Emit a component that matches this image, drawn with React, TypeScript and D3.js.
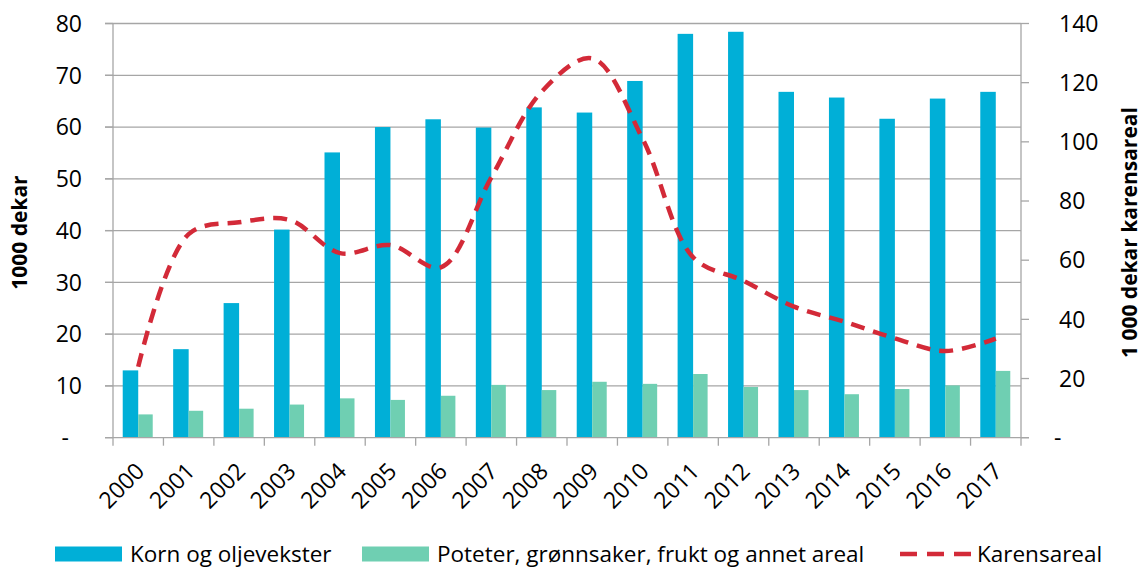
import React, { useRef, useEffect } from "react";
import * as d3 from "d3";

const years = ["2000", "2001", "2002", "2003", "2004", "2005", "2006", "2007", "2008", "2009", "2010", "2011", "2012", "2013", "2014", "2015", "2016", "2017"];
const korn = [13, 17.1, 26, 40.2, 55.1, 60, 61.5, 59.9, 63.8, 62.8, 68.9, 78, 78.4, 66.8, 65.7, 61.6, 65.5, 66.8];
const poteter = [4.5, 5.2, 5.6, 6.4, 7.6, 7.3, 8.1, 10.2, 9.2, 10.8, 10.4, 12.3, 9.8, 9.2, 8.4, 9.4, 10.1, 12.9];
const karens = [24, 68.8, 72.8, 73.6, 62.4, 65.1, 57.6, 88, 117, 128.2, 101, 61, 53, 44.3, 39.2, 33.6, 29.3, 33.5];
const leftTicks = [0, 10, 20, 30, 40, 50, 60, 70, 80];
const rightTicks = [0, 20, 40, 60, 80, 100, 120, 140];

const BLUE = "#00AFD7";
const GREEN = "#6FCFB2";
const RED = "#D32A38";
const GRID = "#A6A6A6";
const FONT = "'Open Sans', Lato, sans-serif";

const App = () => {
  const svgRef = useRef(null);
  const width = 1146;
  const height = 570;

  useEffect(() => {
    const svg = d3.select(svgRef.current);
    svg.selectAll("*").remove();

    const left = 113;
    const right = 1021;
    const top = 23.5;
    const bottom = 437.7;

    const x = d3.scaleBand().domain(years).range([left, right]).padding(0);
    const yL = d3.scaleLinear().domain([0, 80]).range([bottom, top]);
    const yR = d3.scaleLinear().domain([0, 140]).range([bottom, top]);

    const barW = 15.5;
    const groupOff = (x.bandwidth() - 2 * barW) / 2;

    // gridlines
    svg
      .append("g")
      .selectAll("line")
      .data(leftTicks.slice(1))
      .join("line")
      .attr("x1", left - 8)
      .attr("x2", right)
      .attr("y1", (d) => yL(d))
      .attr("y2", (d) => yL(d))
      .attr("stroke", GRID)
      .attr("stroke-width", 1.3);

    // bars
    svg
      .append("g")
      .selectAll("rect")
      .data(korn)
      .join("rect")
      .attr("x", (d, i) => x(years[i]) + groupOff)
      .attr("y", (d) => yL(d))
      .attr("width", barW)
      .attr("height", (d) => bottom - yL(d))
      .attr("fill", BLUE);

    svg
      .append("g")
      .selectAll("rect")
      .data(poteter)
      .join("rect")
      .attr("x", (d, i) => x(years[i]) + groupOff + barW)
      .attr("y", (d) => yL(d))
      .attr("width", barW - 1)
      .attr("height", (d) => bottom - yL(d))
      .attr("fill", GREEN);

    // axes lines
    const axisG = svg.append("g").attr("stroke", GRID).attr("stroke-width", 1.3);
    axisG.append("line").attr("x1", left).attr("x2", left).attr("y1", top).attr("y2", bottom + 8);
    axisG.append("line").attr("x1", right).attr("x2", right).attr("y1", top).attr("y2", bottom + 8);
    axisG.append("line").attr("x1", left - 8).attr("x2", right + 8).attr("y1", bottom).attr("y2", bottom);
    axisG
      .selectAll(".lt")
      .data(leftTicks)
      .join("line")
      .attr("x1", left - 8)
      .attr("x2", left)
      .attr("y1", (d) => yL(d))
      .attr("y2", (d) => yL(d));
    axisG
      .selectAll(".rt")
      .data(rightTicks)
      .join("line")
      .attr("x1", right)
      .attr("x2", right + 8)
      .attr("y1", (d) => yR(d))
      .attr("y2", (d) => yR(d));
    axisG
      .selectAll(".bt")
      .data(years.slice(1))
      .join("line")
      .attr("x1", (d) => x(d))
      .attr("x2", (d) => x(d))
      .attr("y1", bottom)
      .attr("y2", bottom + 8);

    // line
    const line = d3
      .line()
      .x((d, i) => x(years[i]) + x.bandwidth() / 2)
      .y((d) => yR(d))
      .curve(d3.curveCatmullRom.alpha(0.5));

    svg
      .append("path")
      .datum(karens)
      .attr("fill", "none")
      .attr("stroke", RED)
      .attr("stroke-width", 4.5)
      .attr("stroke-dasharray", "14 9")
      .attr("d", line);

    // tick labels
    svg
      .append("g")
      .selectAll("text")
      .data(leftTicks)
      .join("text")
      .attr("x", (d) => (d === 0 ? 69 : 82))
      .attr("y", (d) => yL(d))
      .attr("dy", "0.36em")
      .attr("text-anchor", "end")
      .style("font-family", FONT)
      .style("font-size", "23px")
      .attr("fill", "#000")
      .text((d) => (d === 0 ? "-" : d));

    svg
      .append("g")
      .selectAll("text")
      .data(rightTicks)
      .join("text")
      .attr("x", (d) => (d === 0 ? 1054 : 1059))
      .attr("y", (d) => yR(d))
      .attr("dy", "0.36em")
      .attr("text-anchor", "start")
      .style("font-family", FONT)
      .style("font-size", "23px")
      .attr("fill", "#000")
      .text((d) => (d === 0 ? "-" : d));

    svg
      .append("g")
      .selectAll("text")
      .data(years)
      .join("text")
      .attr("transform", (d) => `translate(${x(d) + x.bandwidth() / 2 + 2}, 467) rotate(-45)`)
      .attr("dy", "0.35em")
      .attr("text-anchor", "end")
      .style("font-family", FONT)
      .style("font-size", "23px")
      .attr("fill", "#000")
      .text((d) => d);

    // axis titles
    svg
      .append("text")
      .attr("transform", `translate(20, ${(top + bottom) / 2 + 2}) rotate(-90)`)
      .attr("dy", "0.35em")
      .attr("text-anchor", "middle")
      .style("font-family", FONT)
      .style("font-size", "21px")
      .style("font-weight", "bold")
      .text("1000 dekar");

    svg
      .append("text")
      .attr("transform", `translate(1130, ${(top + bottom) / 2 + 2}) rotate(-90)`)
      .attr("dy", "0.35em")
      .attr("text-anchor", "middle")
      .style("font-family", FONT)
      .style("font-size", "21px")
      .style("font-weight", "bold")
      .text("1 000 dekar karensareal");

    // legend
    const ly = 554;
    const legend = svg.append("g").style("font-family", FONT).style("font-size", "22.5px");
    legend.append("rect").attr("x", 55).attr("y", ly - 7.5).attr("width", 67).attr("height", 15).attr("fill", BLUE);
    legend.append("text").attr("x", 130).attr("y", ly).attr("dy", "0.36em").text("Korn og oljevekster");
    legend.append("rect").attr("x", 362).attr("y", ly - 7.5).attr("width", 67).attr("height", 15).attr("fill", GREEN);
    legend.append("text").attr("x", 437).attr("y", ly).attr("dy", "0.36em").text("Poteter, grønnsaker, frukt og annet areal");
    legend
      .append("line")
      .attr("x1", 900)
      .attr("x2", 971)
      .attr("y1", ly)
      .attr("y2", ly)
      .attr("stroke", RED)
      .attr("stroke-width", 4.5)
      .attr("stroke-dasharray", "17 10");
    legend.append("text").attr("x", 977).attr("y", ly).attr("dy", "0.36em").text("Karensareal");
  }, []);

  return (
    <div style={{ position: "absolute", left: 0, top: 0 }}>
      <svg ref={svgRef} width={width} height={height} style={{ display: "block", background: "#fff" }} />
    </div>
  );
};

export default App;
